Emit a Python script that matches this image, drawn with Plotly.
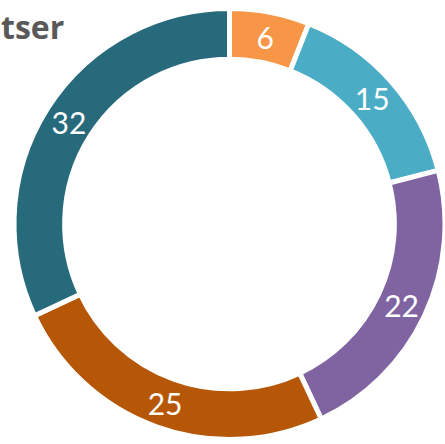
import plotly.graph_objects as go

labels = ["A", "B", "C", "D", "E"]
values = [6, 15, 22, 25, 32]
colors = ["#F79646", "#4BACC6", "#8064A2", "#B65708", "#276A7C"]
title_text = "tser"

W, H = 445, 444

fig = go.Figure(go.Pie(
    labels=labels,
    values=values,
    sort=False,
    direction="clockwise",
    rotation=0,
    hole=0.765,
    marker=dict(colors=colors, line=dict(color="white", width=5)),
    textinfo="value",
    textposition="inside",
    insidetextorientation="horizontal",
    textfont=dict(color="white", size=30, family="Lato"),
    domain=dict(x=[14 / W, 1.0], y=[4 / H, 436 / H]),
    showlegend=False,
))

fig.add_annotation(
    text="<b>" + title_text + "</b>",
    x=0, y=1, xref="paper", yref="paper",
    xanchor="left", yanchor="top",
    xshift=-1, yshift=-3,
    showarrow=False,
    font=dict(size=32, color="#595959", family="Open Sans"),
)

fig.update_layout(
    width=W, height=H,
    margin=dict(l=0, r=0, t=0, b=0),
    paper_bgcolor="white",
    plot_bgcolor="white",
)

fig.write_html("out.html", config={"displayModeBar": False},
               post_script="document.body.style.margin='0';")
